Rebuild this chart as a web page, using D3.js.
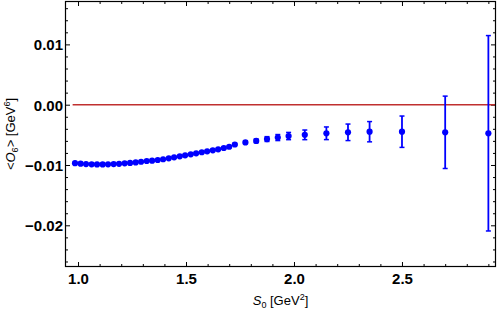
<!DOCTYPE html>
<html>
<head>
<meta charset="utf-8">
<script src="https://cdn.jsdelivr.net/npm/d3@7"></script>
<style>
    body { margin: 0; background: #fff; }
    svg { display: block; font-family: 'Liberation Sans', Arial, sans-serif; }
</style>
</head>
<body>
<div id="chart"></div>
<script>
// <O6> 随 s0 的变化（带误差棒）

// 数据：s0 取值、<O6> 中心值、误差
const s0Values = [
    0.986, 1.012, 1.037, 1.063, 1.088, 1.114, 1.139, 1.165, 1.190, 1.216,
    1.241, 1.267, 1.292, 1.318, 1.343, 1.369, 1.394, 1.420, 1.445, 1.471,
    1.496, 1.522, 1.547, 1.573, 1.598, 1.624, 1.649, 1.675, 1.700, 1.726,
    1.775, 1.825, 1.875, 1.925, 1.975, 2.05, 2.15, 2.25, 2.35, 2.5, 2.7, 2.9
];
const o6Values = [
    -0.0097, -0.00978, -0.00984, -0.00988, -0.0099, -0.0099, -0.00989, -0.00985, -0.0098, -0.00973,
    -0.00965, -0.00957, -0.00946, -0.00934, -0.00929, -0.00917, -0.00905, -0.00889, -0.00872, -0.00856,
    -0.00839, -0.00823, -0.00806, -0.00789, -0.00773, -0.00756, -0.0074, -0.00718, -0.00697, -0.0066,
    -0.00626, -0.006, -0.0057, -0.00545, -0.0052, -0.005, -0.00474, -0.00458, -0.00448, -0.00448,
    -0.00458, -0.00474
];
const o6Errors = [
    0.00003, 0.00003, 0.00003, 0.00003, 0.00003, 0.00003, 0.00003, 0.00004, 0.00004, 0.00004,
    0.00004, 0.00005, 0.00005, 0.00005, 0.00006, 0.00006, 0.00007, 0.00007, 0.00008, 0.00008,
    0.00009, 0.0001, 0.0001, 0.00011, 0.00012, 0.00013, 0.00014, 0.00015, 0.00016, 0.00018,
    0.0002, 0.0003, 0.0004, 0.0005, 0.0006, 0.0008, 0.00105, 0.00137, 0.00168, 0.0026,
    0.006, 0.0162
];

const xMajorTicks = [1.0, 1.5, 2.0, 2.5];
const yMajorTicks = [0.01, 0.0, -0.01, -0.02];
const xDomain = [0.942, 2.933];
const yDomain = [-0.02683, 0.01711];
const refLine = [0.975, 2.933]; // y = 0 的参考线

// 画布设置
const W = 498, H = 310;
const margin = { top: 1.5, right: 2.5, bottom: 43.5, left: 65.5 };
const width = W - margin.left - margin.right;
const height = H - margin.top - margin.bottom;

const svg = d3.select('#chart').append('svg')
    .attr('width', W).attr('height', H)
    .append('g').attr('transform', 'translate(' + margin.left + ',' + margin.top + ')');

// 比例尺
const xScale = d3.scaleLinear().domain(xDomain).range([0, width]);
const yScale = d3.scaleLinear().domain(yDomain).range([height, 0]);

// 次刻度
const xMinor = d3.range(1.0, 2.95, 0.1).filter(function (d) {
    return xMajorTicks.every(function (m) { return Math.abs(m - d) > 1e-6; });
});
const yMinor = d3.range(-0.026, 0.017, 0.002).filter(function (d) {
    return yMajorTicks.every(function (m) { return Math.abs(m - d) > 1e-7; });
});

const fmtY = function (d) {
    return Math.abs(d) < 1e-9 ? '0.00' : d3.format('.2f')(d).replace('-', '\u2212');
};

// 坐标轴：刻度朝内，四边都有
function frameAxis(axisFn, scale, ticks, size, labels) {
    return axisFn(scale).tickValues(ticks).tickSize(size).tickSizeOuter(0)
        .tickFormat(labels ? labels : '');
}

const axes = [
    { g: 'translate(0,' + height + ')', a: d3.axisBottom, s: xScale, maj: xMajorTicks, min: xMinor, lab: d3.format('.1f') },
    { g: 'translate(0,0)', a: d3.axisTop, s: xScale, maj: xMajorTicks, min: xMinor, lab: null },
    { g: 'translate(0,0)', a: d3.axisLeft, s: yScale, maj: yMajorTicks, min: yMinor, lab: fmtY },
    { g: 'translate(' + width + ',0)', a: d3.axisRight, s: yScale, maj: yMajorTicks, min: yMinor, lab: null }
];

axes.forEach(function (ax) {
    // 主刻度
    const gMaj = svg.append('g').attr('transform', ax.g)
        .call(frameAxis(ax.a, ax.s, ax.maj, -4.5, ax.lab));
    gMaj.select('.domain').remove();
    gMaj.selectAll('line').attr('stroke', '#000').attr('stroke-width', 1);
    gMaj.selectAll('text')
        .attr('fill', '#000')
        .style('font-size', '15px')
        .style('font-weight', 'bold');

    if (ax.a === d3.axisBottom) {
        gMaj.selectAll('text').attr('y', 7).attr('dy', '0.71em');
    }
    if (ax.a === d3.axisLeft) {
        gMaj.selectAll('text').attr('x', -2.5).attr('dy', '0.36em');
    }

    // 次刻度
    const gMin = svg.append('g').attr('transform', ax.g)
        .call(frameAxis(ax.a, ax.s, ax.min, -2.5, null));
    gMin.select('.domain').remove();
    gMin.selectAll('line').attr('stroke', '#000').attr('stroke-width', 1);
});

// y = 0 参考线
svg.append('line')
    .attr('x1', xScale(refLine[0])).attr('x2', xScale(refLine[1]))
    .attr('y1', yScale(0)).attr('y2', yScale(0))
    .attr('stroke', '#c0302f').attr('stroke-width', 1.5);

// 数据点
const points = s0Values.map(function (s, i) {
    return { s0: s, v: o6Values[i], e: o6Errors[i] };
});

const pts = svg.append('g').selectAll('.pt').data(points).enter()
    .append('g').classed('pt', true)
    .attr('transform', function (d) {
        return 'translate(' + xScale(d.s0) + ',0)';
    });

// 误差棒
pts.append('line')
    .attr('x1', 0).attr('x2', 0)
    .attr('y1', function (d) { return yScale(d.v + d.e); })
    .attr('y2', function (d) { return yScale(d.v - d.e); })
    .attr('stroke', '#0000ff').attr('stroke-width', 1.8);

[1, -1].forEach(function (sign) {
    pts.append('line')
        .attr('x1', -2.5).attr('x2', 2.5)
        .attr('y1', function (d) { return yScale(d.v + sign * d.e); })
        .attr('y2', function (d) { return yScale(d.v + sign * d.e); })
        .attr('stroke', '#0000ff').attr('stroke-width', 1.5);
});

pts.append('circle')
    .attr('cx', 0)
    .attr('cy', function (d) { return yScale(d.v); })
    .attr('r', 3.1)
    .attr('fill', '#0000ff');

// 边框
svg.append('rect')
    .attr('width', width).attr('height', height)
    .attr('fill', 'none').attr('stroke', '#000').attr('stroke-width', 1.2);

// 轴标题
const xTitle = svg.append('text')
    .attr('x', width / 2).attr('y', height + 38)
    .attr('text-anchor', 'middle')
    .style('font-size', '13px');
xTitle.append('tspan').style('font-style', 'italic').text('S');
xTitle.append('tspan').attr('dy', 3).style('font-size', '9px').text('0');
xTitle.append('tspan').attr('dy', -3).text(' [GeV');
xTitle.append('tspan').attr('dy', -5).style('font-size', '9px').text('2');
xTitle.append('tspan').attr('dy', 5).text(']');

const yTitle = svg.append('text')
    .attr('transform', 'translate(' + (-margin.left + 15) + ',' + (height / 2) + ') rotate(-90)')
    .attr('text-anchor', 'middle')
    .style('font-size', '13px');
yTitle.append('tspan').text('<');
yTitle.append('tspan').style('font-style', 'italic').text('O');
yTitle.append('tspan').attr('dy', 3).style('font-size', '9px').text('6');
yTitle.append('tspan').attr('dy', -3).text('> [GeV');
yTitle.append('tspan').attr('dy', -5).style('font-size', '9px').text('6');
yTitle.append('tspan').attr('dy', 5).text(']');
</script>
</body>
</html>
